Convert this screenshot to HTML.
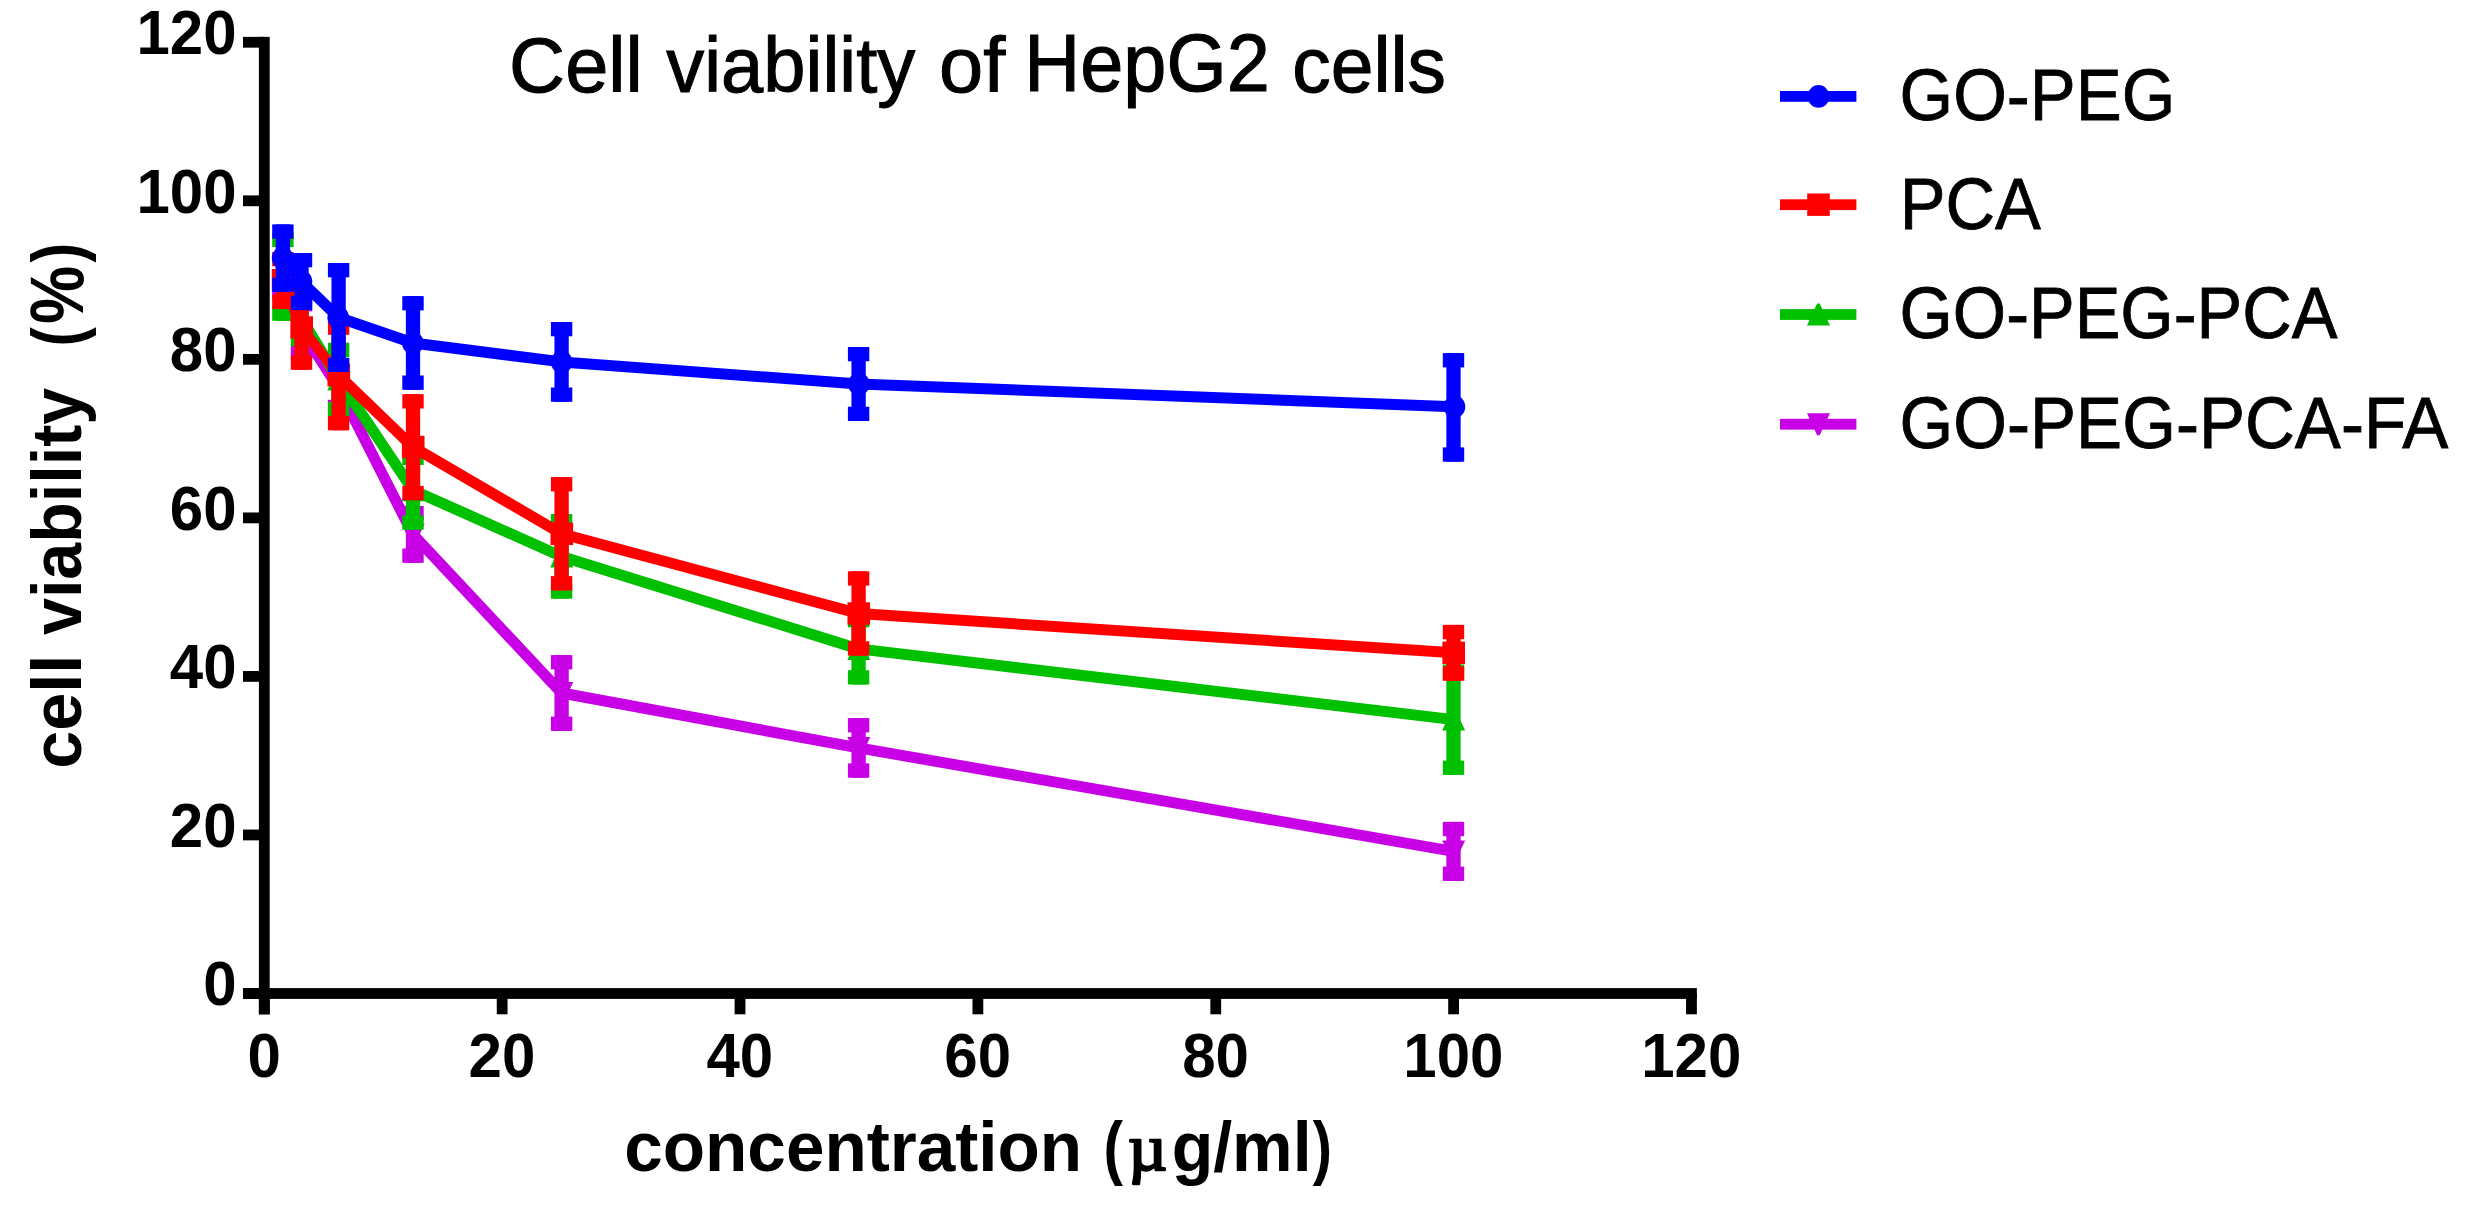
<!DOCTYPE html>
<html lang="en">
<head>
<meta charset="utf-8">
<title>Cell viability of HepG2 cells</title>
<style>
html,body{margin:0;padding:0;background:#fff;}
body{width:2473px;height:1208px;overflow:hidden;}
svg{display:block;}
text{font-family:"Liberation Sans",Arial,Helvetica,sans-serif;fill:#000;}
.tk{font-size:60px;font-weight:bold;}
.ax{font-size:70px;font-weight:bold;}
.lg{font-size:70px;stroke:#000;stroke-width:0.8px;}
.tt{font-size:80px;stroke:#000;stroke-width:1.1px;}
.mu{font-family:"Liberation Serif","DejaVu Serif",serif;font-weight:normal;font-size:70px;stroke:#000;stroke-width:2.4px;stroke-linejoin:round;}
</style>
</head>
<body>
<svg width="2473" height="1208" viewBox="0 0 2473 1208">
<rect width="2473" height="1208" fill="#fff"/>

<g fill="#c800e6" stroke="none">
<rect x="275.75" y="270" width="14.3" height="30"/>
<rect x="272.2" y="270" width="21.4" height="14.3"/>
<rect x="272.2" y="285.7" width="21.4" height="14.3"/>
<rect x="294.35" y="297.1" width="14.3" height="61.9"/>
<rect x="290.8" y="297.1" width="21.4" height="14.3"/>
<rect x="290.8" y="344.7" width="21.4" height="14.3"/>
<rect x="331.45" y="362" width="14.3" height="52.1"/>
<rect x="327.9" y="362" width="21.4" height="14.3"/>
<rect x="327.9" y="399.8" width="21.4" height="14.3"/>
<rect x="405.85" y="506" width="14.3" height="56.8"/>
<rect x="402.3" y="506" width="21.4" height="14.3"/>
<rect x="402.3" y="548.5" width="21.4" height="14.3"/>
<rect x="554.45" y="655.1" width="14.3" height="75.8"/>
<rect x="550.9" y="655.1" width="21.4" height="14.3"/>
<rect x="550.9" y="716.6" width="21.4" height="14.3"/>
<rect x="851.45" y="718.1" width="14.3" height="59.6"/>
<rect x="847.9" y="718.1" width="21.4" height="14.3"/>
<rect x="847.9" y="763.4" width="21.4" height="14.3"/>
<rect x="1446.35" y="821.9" width="14.3" height="59"/>
<rect x="1442.8" y="821.9" width="21.4" height="14.3"/>
<rect x="1442.8" y="866.6" width="21.4" height="14.3"/>
<path d="M282.9 285L301.5 330" fill="none" stroke="#c800e6" stroke-width="11" stroke-linecap="round"/>
<path d="M301.5 330L338.6 388" fill="none" stroke="#c800e6" stroke-width="11" stroke-linecap="round"/>
<path d="M338.6 388L413 534.4" fill="none" stroke="#c800e6" stroke-width="11" stroke-linecap="round"/>
<path d="M413 534.4L561.6 693" fill="none" stroke="#c800e6" stroke-width="11" stroke-linecap="round"/>
<path d="M561.6 693L858.6 747.9" fill="none" stroke="#c800e6" stroke-width="11" stroke-linecap="round"/>
<path d="M858.6 747.9L1453.5 851.4" fill="none" stroke="#c800e6" stroke-width="11" stroke-linecap="round"/>
<path d="M281.7 296L284.3 296L294.6 274L271.6 274Z"/>
<path d="M300.3 341L302.9 341L313.2 319L290.2 319Z"/>
<path d="M337.4 399L340 399L350.3 377L327.3 377Z"/>
<path d="M411.8 545.4L414.4 545.4L424.7 523.4L401.7 523.4Z"/>
<path d="M560.4 704L563 704L573.3 682L550.3 682Z"/>
<path d="M857.4 758.9L860 758.9L870.3 736.9L847.3 736.9Z"/>
<path d="M1452.3 862.4L1454.9 862.4L1465.2 840.4L1442.2 840.4Z"/>
</g>
<g fill="#00c000" stroke="none">
<rect x="275.75" y="232.7" width="14.3" height="88.1"/>
<rect x="272.2" y="232.7" width="21.4" height="14.3"/>
<rect x="272.2" y="306.5" width="21.4" height="14.3"/>
<rect x="294.35" y="292.4" width="14.3" height="53.8"/>
<rect x="290.8" y="292.4" width="21.4" height="14.3"/>
<rect x="290.8" y="331.9" width="21.4" height="14.3"/>
<rect x="331.45" y="342.7" width="14.3" height="73.5"/>
<rect x="327.9" y="342.7" width="21.4" height="14.3"/>
<rect x="327.9" y="401.9" width="21.4" height="14.3"/>
<rect x="405.85" y="450.7" width="14.3" height="79"/>
<rect x="402.3" y="450.7" width="21.4" height="14.3"/>
<rect x="402.3" y="515.4" width="21.4" height="14.3"/>
<rect x="554.45" y="514" width="14.3" height="84.7"/>
<rect x="550.9" y="514" width="21.4" height="14.3"/>
<rect x="550.9" y="584.4" width="21.4" height="14.3"/>
<rect x="851.45" y="613" width="14.3" height="71.5"/>
<rect x="847.9" y="613" width="21.4" height="14.3"/>
<rect x="847.9" y="670.2" width="21.4" height="14.3"/>
<rect x="1446.35" y="664.5" width="14.3" height="110.4"/>
<rect x="1442.8" y="664.5" width="21.4" height="14.3"/>
<rect x="1442.8" y="760.6" width="21.4" height="14.3"/>
<path d="M282.9 276.8L301.5 318.5" fill="none" stroke="#00c000" stroke-width="11" stroke-linecap="round"/>
<path d="M301.5 318.5L338.6 379.4" fill="none" stroke="#00c000" stroke-width="11" stroke-linecap="round"/>
<path d="M338.6 379.4L413 490.2" fill="none" stroke="#00c000" stroke-width="11" stroke-linecap="round"/>
<path d="M413 490.2L561.6 556.4" fill="none" stroke="#00c000" stroke-width="11" stroke-linecap="round"/>
<path d="M561.6 556.4L858.6 648.9" fill="none" stroke="#00c000" stroke-width="11" stroke-linecap="round"/>
<path d="M858.6 648.9L1453.5 719.6" fill="none" stroke="#00c000" stroke-width="11" stroke-linecap="round"/>
<path d="M281.7 265.8L284.3 265.8L294.6 287.8L271.6 287.8Z"/>
<path d="M300.3 307.5L302.9 307.5L313.2 329.5L290.2 329.5Z"/>
<path d="M337.4 368.4L340 368.4L350.3 390.4L327.3 390.4Z"/>
<path d="M411.8 479.2L414.4 479.2L424.7 501.2L401.7 501.2Z"/>
<path d="M560.4 545.4L563 545.4L573.3 567.4L550.3 567.4Z"/>
<path d="M857.4 637.9L860 637.9L870.3 659.9L847.3 659.9Z"/>
<path d="M1452.3 708.6L1454.9 708.6L1465.2 730.6L1442.2 730.6Z"/>
</g>
<g fill="#ff0000" stroke="none">
<rect x="275.75" y="252" width="14.3" height="56.9"/>
<rect x="272.2" y="252" width="21.4" height="14.3"/>
<rect x="272.2" y="294.6" width="21.4" height="14.3"/>
<rect x="294.35" y="285.2" width="14.3" height="84.6"/>
<rect x="290.8" y="285.2" width="21.4" height="14.3"/>
<rect x="290.8" y="355.5" width="21.4" height="14.3"/>
<rect x="331.45" y="320.5" width="14.3" height="109.8"/>
<rect x="327.9" y="320.5" width="21.4" height="14.3"/>
<rect x="327.9" y="416" width="21.4" height="14.3"/>
<rect x="405.85" y="394.2" width="14.3" height="106"/>
<rect x="402.3" y="394.2" width="21.4" height="14.3"/>
<rect x="402.3" y="485.9" width="21.4" height="14.3"/>
<rect x="554.45" y="477.1" width="14.3" height="113.3"/>
<rect x="550.9" y="477.1" width="21.4" height="14.3"/>
<rect x="550.9" y="576.1" width="21.4" height="14.3"/>
<rect x="851.45" y="571.3" width="14.3" height="84.3"/>
<rect x="847.9" y="571.3" width="21.4" height="14.3"/>
<rect x="847.9" y="641.3" width="21.4" height="14.3"/>
<rect x="1446.35" y="624.9" width="14.3" height="55.9"/>
<rect x="1442.8" y="624.9" width="21.4" height="14.3"/>
<rect x="1442.8" y="666.5" width="21.4" height="14.3"/>
<path d="M282.9 280.2L301.5 327.5" fill="none" stroke="#ff0000" stroke-width="11" stroke-linecap="round"/>
<path d="M301.5 327.5L338.6 375.2" fill="none" stroke="#ff0000" stroke-width="10.1" stroke-linecap="round"/>
<path d="M338.6 375.2L413 447" fill="none" stroke="#ff0000" stroke-width="11" stroke-linecap="round"/>
<path d="M413 447L561.6 533.8" fill="none" stroke="#ff0000" stroke-width="11" stroke-linecap="round"/>
<path d="M561.6 533.8L858.6 613.5" fill="none" stroke="#ff0000" stroke-width="11" stroke-linecap="round"/>
<path d="M858.6 613.5L1453.5 652.8" fill="none" stroke="#ff0000" stroke-width="11" stroke-linecap="round"/>
<rect x="271.8" y="269" width="22.6" height="22.4"/>
<rect x="290.4" y="316.3" width="22.6" height="22.4"/>
<rect x="327.5" y="364" width="22.6" height="22.4"/>
<rect x="401.9" y="435.8" width="22.6" height="22.4"/>
<rect x="550.5" y="522.6" width="22.6" height="22.4"/>
<rect x="847.5" y="602.3" width="22.6" height="22.4"/>
<rect x="1442.4" y="641.6" width="22.6" height="22.4"/>
</g>
<g fill="#0000ff" stroke="none">
<rect x="275.75" y="224.4" width="14.3" height="67.6"/>
<rect x="272.2" y="224.4" width="21.4" height="14.3"/>
<rect x="272.2" y="277.7" width="21.4" height="14.3"/>
<rect x="294.35" y="253" width="14.3" height="57.1"/>
<rect x="290.8" y="253" width="21.4" height="14.3"/>
<rect x="290.8" y="295.8" width="21.4" height="14.3"/>
<rect x="331.45" y="263" width="14.3" height="109"/>
<rect x="327.9" y="263" width="21.4" height="14.3"/>
<rect x="327.9" y="357.7" width="21.4" height="14.3"/>
<rect x="405.85" y="296.1" width="14.3" height="93.7"/>
<rect x="402.3" y="296.1" width="21.4" height="14.3"/>
<rect x="402.3" y="375.5" width="21.4" height="14.3"/>
<rect x="554.45" y="322" width="14.3" height="79.8"/>
<rect x="550.9" y="322" width="21.4" height="14.3"/>
<rect x="550.9" y="387.5" width="21.4" height="14.3"/>
<rect x="851.45" y="347" width="14.3" height="74"/>
<rect x="847.9" y="347" width="21.4" height="14.3"/>
<rect x="847.9" y="406.7" width="21.4" height="14.3"/>
<rect x="1446.35" y="353.1" width="14.3" height="108.6"/>
<rect x="1442.8" y="353.1" width="21.4" height="14.3"/>
<rect x="1442.8" y="447.4" width="21.4" height="14.3"/>
<path d="M282.9 258L301.5 281.6" fill="none" stroke="#0000ff" stroke-width="11" stroke-linecap="round"/>
<path d="M301.5 281.6L338.6 317.5" fill="none" stroke="#0000ff" stroke-width="11" stroke-linecap="round"/>
<path d="M338.6 317.5L413 343" fill="none" stroke="#0000ff" stroke-width="11" stroke-linecap="round"/>
<path d="M413 343L561.6 361.9" fill="none" stroke="#0000ff" stroke-width="11" stroke-linecap="round"/>
<path d="M561.6 361.9L858.6 384" fill="none" stroke="#0000ff" stroke-width="11" stroke-linecap="round"/>
<path d="M858.6 384L1453.5 406.7" fill="none" stroke="#0000ff" stroke-width="11" stroke-linecap="round"/>
<ellipse cx="282.6" cy="258" rx="10.8" ry="11.3"/>
<ellipse cx="301.5" cy="281.6" rx="10.8" ry="11.3"/>
<ellipse cx="338.2" cy="317.5" rx="10.8" ry="11.3"/>
<ellipse cx="412.8" cy="343" rx="10.8" ry="11.3"/>
<ellipse cx="561.6" cy="361.9" rx="10.8" ry="11.3"/>
<ellipse cx="858.85" cy="384" rx="10.8" ry="11.3"/>
<ellipse cx="1454.5" cy="406.7" rx="10.8" ry="11.3"/>
</g>
<g fill="#000">
<rect x="258.9" y="36.86" width="10.8" height="977.44"/>
<rect x="243" y="988.1" width="1453.86" height="10.8"/>
<rect x="243" y="988.1" width="21.3" height="10.8"/>
<rect x="258.9" y="993.5" width="10.8" height="20.8"/>
<rect x="243" y="829.56" width="21.3" height="10.8"/>
<rect x="496.76" y="993.5" width="10.8" height="20.8"/>
<rect x="243" y="671.02" width="21.3" height="10.8"/>
<rect x="734.62" y="993.5" width="10.8" height="20.8"/>
<rect x="243" y="512.48" width="21.3" height="10.8"/>
<rect x="972.48" y="993.5" width="10.8" height="20.8"/>
<rect x="243" y="353.94" width="21.3" height="10.8"/>
<rect x="1210.34" y="993.5" width="10.8" height="20.8"/>
<rect x="243" y="195.4" width="21.3" height="10.8"/>
<rect x="1448.2" y="993.5" width="10.8" height="20.8"/>
<rect x="243" y="36.86" width="21.3" height="10.8"/>
<rect x="1686.06" y="993.5" width="10.8" height="20.8"/>
</g>
<text class="tk" transform="translate(236.5 1005.4) scale(1 1.05)" text-anchor="end">0</text>
<text class="tk" transform="translate(236.5 846.86) scale(1 1.05)" text-anchor="end">20</text>
<text class="tk" transform="translate(236.5 688.32) scale(1 1.05)" text-anchor="end">40</text>
<text class="tk" transform="translate(236.5 529.78) scale(1 1.05)" text-anchor="end">60</text>
<text class="tk" transform="translate(236.5 371.24) scale(1 1.05)" text-anchor="end">80</text>
<text class="tk" transform="translate(236.5 212.7) scale(1 1.05)" text-anchor="end">100</text>
<text class="tk" transform="translate(236.5 54.16) scale(1 1.05)" text-anchor="end">120</text>
<text class="tk" transform="translate(264.1 1077.4) scale(1 1.05)" text-anchor="middle">0</text>
<text class="tk" transform="translate(501.96 1077.4) scale(1 1.05)" text-anchor="middle">20</text>
<text class="tk" transform="translate(739.82 1077.4) scale(1 1.05)" text-anchor="middle">40</text>
<text class="tk" transform="translate(977.68 1077.4) scale(1 1.05)" text-anchor="middle">60</text>
<text class="tk" transform="translate(1215.54 1077.4) scale(1 1.05)" text-anchor="middle">80</text>
<text class="tk" transform="translate(1453.4 1077.4) scale(1 1.05)" text-anchor="middle">100</text>
<text class="tk" transform="translate(1691.26 1077.4) scale(1 1.05)" text-anchor="middle">120</text>
<text class="tt" transform="translate(509.11 91.5) scale(0.9699 0.975)">Cell</text>
<text class="tt" transform="translate(666.27 91.5) scale(0.9491 0.975)">viability</text>
<text class="tt" transform="translate(939.07 91.5) scale(0.9931 0.975)">of</text>
<text class="tt" transform="translate(1024.29 91.4) scale(0.9689 1.012)">HepG2</text>
<text class="tt" transform="translate(1292.36 91.5) scale(0.96 0.975)">cells</text>
<text class="ax" transform="translate(624.28 1171.3) scale(0.9894 1.0)">concentration</text>
<text class="ax" transform="translate(1103.38 1171.3) scale(0.8354 1.0)">(</text>
<text class="mu" transform="translate(1127.93 1170.47) scale(0.9699 0.9434)">µ</text>
<text class="ax" transform="translate(1171.63 1171.3) scale(0.9725 1.0)">g/ml</text>
<text class="ax" transform="translate(1312.79 1171.3) scale(0.8256 1.0)">)</text>
<text class="ax" transform="translate(80.9 768.78) rotate(-90) scale(0.9757 1.0)">cell</text>
<text class="ax" transform="translate(80.9 635.04) rotate(-90) scale(0.9488 1.0)">viability</text>
<text class="ax" transform="translate(80.9 346.51) rotate(-90) scale(0.8304 1.0)">(</text>
<text class="ax" transform="translate(82.95 324.04) rotate(-90) scale(0.9345 1.0944)">%</text>
<text class="ax" transform="translate(80.9 262.51) rotate(-90) scale(0.841 1.0)">)</text>
<text class="lg" transform="translate(1899.55 120.4) scale(0.9848 1.025)">GO-PEG</text>
<text class="lg" transform="translate(1899.76 229) scale(0.9799 1.025)">PCA</text>
<text class="lg" transform="translate(1899.56 338.3) scale(0.979 1.025)">GO-PEG-PCA</text>
<text class="lg" transform="translate(1899.54 448.4) scale(0.987 1.025)">GO-PEG-PCA-FA</text>
<g fill="#0000ff">
<rect x="1780" y="91" width="76.4" height="10.8"/>
<ellipse cx="1818.5" cy="96.4" rx="10.8" ry="11.3"/>
</g>
<g fill="#ff0000">
<rect x="1780" y="199.3" width="76.4" height="10.8"/>
<rect x="1807.2" y="193.5" width="22.6" height="22.4"/>
</g>
<g fill="#00c000">
<rect x="1780" y="309.1" width="76.4" height="10.8"/>
<path d="M1817.1 303.5L1819.7 303.5L1830 325.5L1807 325.5Z"/>
</g>
<g fill="#c800e6">
<rect x="1780" y="418.8" width="76.4" height="10.8"/>
<path d="M1817.1 435.2L1819.7 435.2L1830 413.2L1807 413.2Z"/>
</g>
</svg>
</body>
</html>
